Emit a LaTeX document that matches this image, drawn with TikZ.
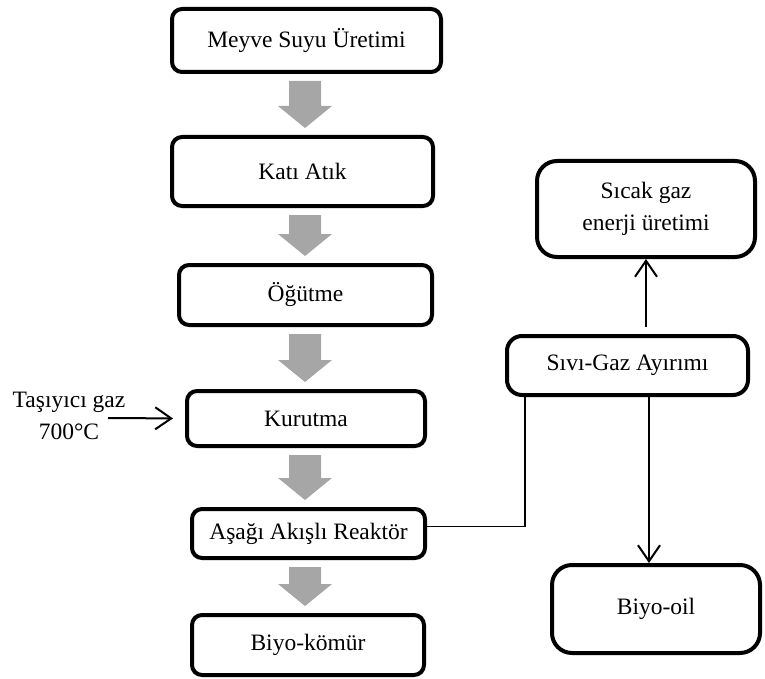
\documentclass[tikz,border=0pt]{standalone}
\usepackage{fontspec}
\setmainfont{Liberation Serif}
\usetikzlibrary{arrows.meta,calc}
\definecolor{arrowgray}{RGB}{166,166,166}
\tikzset{
  procbox/.style={draw, line width=4pt, rounded corners=10pt, inner sep=0pt,
    align=center, font=\fontsize{23.5}{32}\selectfont},
  thinflow/.style={line width=2pt, -{Straight Barb[length=16pt,width=22pt]}},
  feedline/.style={line width=1.3pt},
  labeltext/.style={align=center, inner sep=0pt, font=\fontsize{23.5}{32}\selectfont}
}
% wide grey block arrow between two stacked boxes
\newcommand{\blockarrow}[2]{%
  \fill[arrowgray] let \p1=(#1.south), \p2=(#2.north) in
    (305pt-16pt,\y1-7pt) -- (305pt+16pt,\y1-7pt) -- (305pt+16pt,\y2+29pt)
    -- (305pt+27pt,\y2+29pt) -- (305pt,\y2+7pt) -- (305pt-27pt,\y2+29pt)
    -- (305pt-16pt,\y2+29pt) -- cycle;}
\begin{document}
\begin{tikzpicture}[x=1pt,y=-1pt]
\useasboundingbox (0,0) rectangle (765,679);

% main process chain
\node[procbox, minimum width=269pt, minimum height=63pt] (b1) at (306.5,40.5) {Meyve Suyu Üretimi};
\node[procbox, minimum width=261pt, minimum height=69pt] (b2) at (302.5,171.5) {Katı Atık};
\node[procbox, minimum width=253pt, minimum height=60pt] (b3) at (305.5,295) {Öğütme};
\node[procbox, minimum width=238pt, minimum height=55pt] (b4) at (306,418.5) {Kurutma};
\node[procbox, minimum width=233pt, minimum height=49pt] (b5) at (308.5,533.5) {Aşağı Akışlı Reaktör};
\node[procbox, minimum width=232pt, minimum height=60pt] (b6) at (308,645) {Biyo-kömür};

\blockarrow{b1}{b2}
\blockarrow{b2}{b3}
\blockarrow{b3}{b4}
\blockarrow{b4}{b5}
\blockarrow{b5}{b6}

% carrier gas input
\node[labeltext] (gas) at (69,416) {Taşıyıcı gaz\\700°C};
\coordinate (gasin) at (108,418);
\draw[thinflow, shorten >=12pt] (gasin) -- (b4.west);

% separation branch
\node[procbox, rounded corners=15pt, minimum width=241pt, minimum height=59pt] (sep) at (627.5,365.5) {Sıvı-Gaz Ayırımı};
\node[procbox, rounded corners=20pt, minimum width=218pt, minimum height=96pt] (hot) at (646,209) {Sıcak gaz\\enerji üretimi};
\node[procbox, rounded corners=20pt, minimum width=208pt, minimum height=88pt] (oil) at (656,609) {Biyo-oil};

\draw[feedline] ([yshift=7pt]b5.east) -| ([xshift=20pt]sep.south west);
\draw[thinflow, shorten <=7pt] (hot.south |- sep.north) -- (hot.south);
\draw[thinflow] ([xshift=-7pt]oil.north |- sep.south) -- ([xshift=-7pt]oil.north);
\end{tikzpicture}
\end{document}
